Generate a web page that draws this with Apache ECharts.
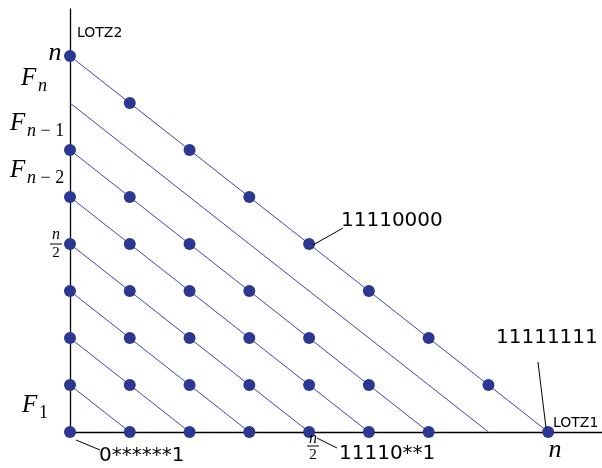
<!DOCTYPE html>
<html>
<head>
<meta charset="utf-8">
<script src="https://cdn.jsdelivr.net/npm/echarts@6/dist/echarts.min.js"></script>
<style>html,body{margin:0;padding:0;background:#fff}#c{width:602px;height:468px}</style>
</head>
<body>
<div id="c"></div>
<script>
// Diagonal fronts: line k joins (0,k) and (k,0)
var lineLevels = [1, 2, 3, 4, 5, 6, 7, 8];
// Fronts whose integer points are marked with dots
var dotLevels = [0, 1, 2, 3, 4, 5, 6, 8];
var axisMaxX = 8.9;
var axisMaxY = 9;

var series = [];
lineLevels.forEach(function (k) {
  series.push({
    type: 'line', data: [[0, k], [k, 0]], symbol: 'none', silent: true,
    lineStyle: { color: '#3a4aaa', width: 1 }, z: 2
  });
});
var dots = [];
dotLevels.forEach(function (k) {
  for (var x = 0; x <= k; x++) dots.push([x, k - x]);
});
series.push({
  type: 'scatter', data: dots, symbol: 'circle', symbolSize: 12,
  itemStyle: { color: '#2b3791', opacity: 1 }, z: 5
});

var chart = echarts.init(document.getElementById('c'));
var serif = 'Liberation Serif';
var sans = 'DejaVu Sans';
function t(x, y, text, size, italic, align, family) {
  return { type: 'text', x: x, y: y, z: 10, style: {
    text: text, fontSize: size, fontStyle: italic ? 'italic' : 'normal',
    fontFamily: family || serif, fill: '#000', align: align || 'left', verticalAlign: 'middle' } };
}
function ln(x1, y1, x2, y2) {
  return { type: 'line', z: 10, shape: { x1: x1, y1: y1, x2: x2, y2: y2 }, style: { stroke: '#000', lineWidth: 1 } };
}
function sub(x, y, rest) {
  return { type: 'text', x: x, y: y, z: 10, style: {
    text: '{i|n}' + (rest ? '{r|' + rest + '}' : ''), verticalAlign: 'middle',
    rich: { i: { fontSize: 18, fontStyle: 'italic', fontFamily: serif, fill: '#000' },
            r: { fontSize: 18, fontFamily: serif, fill: '#000' } } } };
}
chart.setOption({
  animation: false,
  grid: { left: 70, right: 0, top: 9, bottom: 36 },
  xAxis: { type: 'value', min: 0, max: axisMaxX, axisLine: { lineStyle: { color: '#000', width: 1.3 } },
    axisTick: { show: false }, axisLabel: { show: false }, splitLine: { show: false } },
  yAxis: { type: 'value', min: 0, max: axisMaxY, axisLine: { lineStyle: { color: '#000', width: 1.3 } },
    axisTick: { show: false }, axisLabel: { show: false }, splitLine: { show: false } },
  series: series,
  graphic: [
    t(77, 33, 'LOTZ2', 14, false, 'left', sans),
    t(553, 423, 'LOTZ1', 14, false, 'left', sans),
    t(55, 53, 'n', 26, true, 'center'),
    t(555, 450, 'n', 26, true, 'center'),
    t(21, 78, 'F', 25, true),
    sub(38, 86, ''),
    t(10, 123, 'F', 25, true),
    sub(27, 131, ' − 1'),
    t(10, 170, 'F', 25, true),
    sub(27, 178, ' − 2'),
    t(56, 235, 'n', 16, true, 'center'),
    ln(50, 244, 62, 244),
    t(56, 253, '2', 15, false, 'center'),
    t(313, 439, 'n', 16, true, 'center'),
    ln(307, 446, 319, 446),
    t(313, 455, '2', 15, false, 'center'),
    t(22, 405, 'F', 25, true),
    { type: 'text', x: 39, y: 413, z: 10, style: { text: '1', fontSize: 18, fontFamily: serif, fill: '#000', verticalAlign: 'middle' } },
    t(99, 456, '0******1', 20, false, 'left', sans),
    ln(76, 440, 100, 450),
    t(339, 454, '11110**1', 20, false, 'left', sans),
    ln(317, 438, 337, 448),
    t(341, 221, '11110000', 20, false, 'left', sans),
    ln(313, 245, 343, 228),
    t(496, 338, '11111111', 20, false, 'left', sans),
    ln(538, 362, 546, 428)
  ]
});
</script>
</body>
</html>
